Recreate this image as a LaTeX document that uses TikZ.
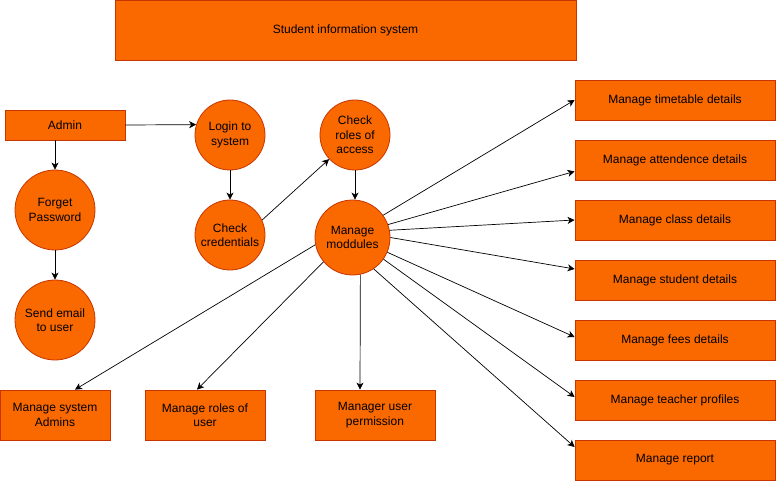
\documentclass[tikz,border=0pt]{standalone}
\usepackage{fontspec}
\setmainfont{Liberation Sans}
\usetikzlibrary{arrows.meta}
\definecolor{orangec}{HTML}{FA6800}
\definecolor{strokec}{HTML}{C73500}
\tikzset{
  box/.style={draw=strokec, fill=orangec, line width=0.8pt, inner sep=0pt, align=center, font=\fontsize{12}{14.5}\selectfont, text=black},
  circ/.style={circle, draw=strokec, fill=orangec, line width=0.8pt, inner sep=0pt, align=center, font=\fontsize{12}{14.5}\selectfont, text=black},
  arr/.style={-{Stealth[length=7pt,width=7pt,inset=2pt]}, line width=0.7pt, black}
}
\begin{document}
\begin{tikzpicture}[x=1pt,y=-1pt]
\useasboundingbox (0,0) rectangle (776,481);
\node[box, minimum width=461pt, minimum height=60pt] (title) at (345.5,30) {Student information system};
\node[box, minimum width=120pt, minimum height=30pt] (admin) at (65,125) {Admin};
\node[circ, minimum size=70pt] (login) at (230,135) {Login to\\system};
\node[circ, minimum size=70pt] (cred) at (230,235) {Check\\credentials};
\node[circ, minimum size=70pt] (roles) at (355,135) {Check\\roles of\\access};
\node[circ, minimum size=75pt] (mm) at (352.5,237.5) {Manage\\moddules};
\node[circ, minimum size=80pt] (forget) at (55,210) {Forget\\Password};
\node[circ, minimum size=80pt] (email) at (55,320) {Send email\\to user};
\node[box, minimum width=110pt, minimum height=50pt] (sysadm) at (55,415) {Manage system\\Admins};
\node[box, minimum width=120pt, minimum height=50pt] (rolesu) at (205,415) {Manage roles of\\user};
\node[box, minimum width=120pt, minimum height=50pt] (perm) at (375,415) {Manager user\\permission};
\node[box, minimum width=200pt, minimum height=40pt] (tt) at (675,100) {Manage timetable details};
\node[box, minimum width=200pt, minimum height=40pt] (att) at (675,160) {Manage attendence details};
\node[box, minimum width=200pt, minimum height=40pt] (cls) at (675,220) {Manage class details};
\node[box, minimum width=200pt, minimum height=40pt] (stu) at (675,280) {Manage student details};
\node[box, minimum width=200pt, minimum height=40pt] (fee) at (675,340) {Manage fees details};
\node[box, minimum width=200pt, minimum height=40pt] (tch) at (675,400) {Manage teacher profiles};
\node[box, minimum width=200pt, minimum height=40pt] (rep) at (675,460) {Manage report};

\draw[arr] (admin.east) -- (login.163);
\draw[arr] (forget.north |- admin.south) -- (forget.north);
\draw[arr] (forget.south) -- (email.north);
\draw[arr] (login.south) -- (cred.north);
\draw[arr] (cred.25) -- (roles.223);
\draw[arr] (roles.south) -- (roles.south |- mm.north);

\draw[arr] (mm.36) -- (tt.west);
\draw[arr] (mm.20) -- ([yshift=9pt]att.south west);
\draw[arr] (mm.11) -- (cls.west);
\draw[arr] (mm.0) -- ([yshift=11pt]stu.west);
\draw[arr] (mm.-23) -- ([yshift=3pt]fee.west);
\draw[arr] (mm.-35.5) -- ([yshift=3pt]tch.west);
\draw[arr] (mm.-56) -- ([yshift=13pt]rep.west);

\draw[arr] (mm.191) -- ([xshift=20pt]sysadm.north);
\draw[arr] (mm.220) -- ([xshift=-8pt]rolesu.north);
\draw[arr] (mm.-78.5) -- ([xshift=-15pt]perm.north);
\end{tikzpicture}
\end{document}
